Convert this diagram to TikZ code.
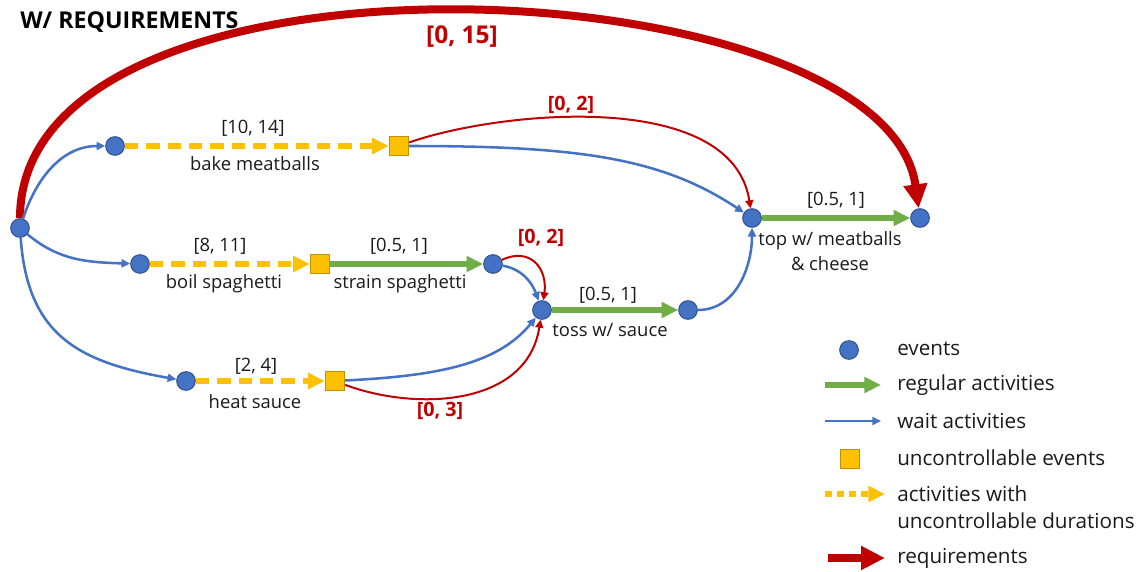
\documentclass[tikz,border=0pt]{standalone}
\usepackage{fontspec}
\setmainfont{Open Sans}
\usetikzlibrary{arrows.meta}
\definecolor{evblue}{HTML}{4472C4}
\definecolor{evedge}{HTML}{2F528F}
\definecolor{ucyel}{HTML}{FFC000}
\definecolor{ucedge}{HTML}{BF9000}
\definecolor{actgreen}{HTML}{70AD47}
\definecolor{reqred}{HTML}{C00000}
\definecolor{ink}{HTML}{1A1A1A}
\begin{document}
\begin{tikzpicture}[x=0.75pt,y=0.75pt,
  ev/.style={circle,fill=evblue,draw=evedge,line width=0.75pt,minimum size=14pt,inner sep=0pt},
  uc/.style={rectangle,fill=ucyel,draw=ucedge,line width=0.75pt,minimum size=14.5pt,inner sep=0pt},
  wait/.style={draw=evblue,line width=1.9pt,-{Triangle[length=6.5pt,width=6pt]}},
  act/.style={draw=actgreen,line width=3.8pt,-{Triangle[length=12.5pt,width=11.5pt]}},
  ucact/.style={draw=ucyel,line width=3.8pt,dash pattern=on 10pt off 6pt,-{Triangle[length=12.5pt,width=11.5pt]}},
  req/.style={draw=reqred,line width=1.5pt,-{Triangle[length=6pt,width=6pt]}},
  bigreq/.style={draw=reqred,line width=6pt,-{Triangle[length=18pt,width=17pt]}},
  lbl/.style={font=\fontsize{13.8}{18.75}\selectfont,text=ink,inner sep=0pt},
  rlbl/.style={font=\fontsize{14.8}{16}\selectfont\bfseries,text=reqred,inner sep=0pt},
  leg/.style={font=\fontsize{15.5}{20.25}\selectfont,text=ink,inner sep=0pt,anchor=west,align=left},
]
\useasboundingbox (0,0) rectangle (1138,-571);

% title
\node[font=\fontsize{17.4}{19}\selectfont\bfseries,anchor=west,inner sep=0pt] (title) at (20,-22) {W/ REQUIREMENTS};

% events
\node[ev] (s)  at (20,-228) {};
\node[ev] (b1) at (115,-146) {};
\node[uc] (b2) at (399,-146) {};
\node[ev] (p1) at (140,-264) {};
\node[uc] (p2) at (320,-264) {};
\node[ev] (p3) at (493,-264) {};
\node[ev] (h1) at (186,-381) {};
\node[uc] (h2) at (335,-381) {};
\node[ev] (t1) at (542,-310) {};
\node[ev] (t2) at (688,-310) {};
\node[ev] (m1) at (752,-218) {};
\node[ev] (m2) at (920,-218) {};

% overall requirement
\draw[bigreq] (s) .. controls +(0,303) and +(-35,253) .. (m2);
\node[font=\fontsize{18.4}{20}\selectfont\bfseries,text=reqred,inner sep=0pt] (r15) at (462,-37) {[0, 15]};

% wait activities from the start
\draw[wait] (s) to[out=72,in=180] (b1);
\draw[wait] (s) to[out=-40,in=178] (p1);
\draw[wait] (s) to[out=-86,in=170,looseness=1.2] (h1);

% activities
\draw[ucact] (b1) -- (b2);
\draw[ucact] (p1) -- (p2);
\draw[act] (p2) -- (p3);
\draw[ucact] (h1) -- (h2);
\draw[act] (t1) -- (t2);
\draw[act] (m1) -- (m2);

% waits into the joins
\draw[wait] (b2) .. controls +(180,0) and +(-90,60) .. (m1);
\draw[wait] (p3) to[out=-10,in=110] (t1);
\draw[wait] (h2) .. controls +(100,5) and +(-45,-55) .. (t1);
\draw[wait] (t2) to[out=0,in=-90] (m1);

% requirements
\draw[req] (b2) .. controls +(100,35) and +(-20,130) .. (m1);
\draw[req] (p3) to[out=25,in=82,looseness=1.4] (t1);
\draw[req] (h2) .. controls +(80,-30) and +(-15,-97) .. (t1);

% labels
\node[lbl] (lb1) at (253,-128) {[10, 14]};
\node[lbl] (lb2) at (255,-164) {bake meatballs};
\node[lbl] (lp1) at (220,-246) {[8, 11]};
\node[lbl] (lp2) at (224,-284) {boil spaghetti};
\node[lbl] (lp3) at (399,-246) {[0.5, 1]};
\node[lbl] (lp4) at (400,-284) {strain spaghetti};
\node[lbl] (lh1) at (256,-366) {[2, 4]};
\node[lbl] (lh2) at (255,-402) {heat sauce};
\node[lbl] (lt1) at (608,-295) {[0.5, 1]};
\node[lbl] (lt2) at (610,-330) {toss w/ sauce};
\node[lbl] (lm1) at (836,-200) {[0.5, 1]};
\node[lbl,align=center] (lm2) at (830,-251) {top w/ meatballs\\\& cheese};
\node[rlbl] (r02a) at (571,-105) {[0, 2]};
\node[rlbl] (r02b) at (541,-238) {[0, 2]};
\node[rlbl] (r03) at (440,-411) {[0, 3]};

% legend
\node[ev] (kev) at (849,-350) {};
\node[leg] (kevt) at (897,-349) {events};
\coordinate (ka1) at (825,-385);
\coordinate (ka2) at (881,-385);
\draw[act] (ka1) -- (ka2);
\node[leg] (kat) at (897,-385) {regular activities};
\coordinate (kw1) at (825,-421);
\coordinate (kw2) at (881,-421);
\draw[wait] (kw1) -- (kw2);
\node[leg] (kwt) at (897,-421) {wait activities};
\node[uc] (kuc) at (850,-459) {};
\node[leg] (kuct) at (897,-458) {uncontrollable events};
\coordinate (kd1) at (825,-494);
\coordinate (kd2) at (885,-494);
\draw[ucact,dash pattern=on 5pt off 4pt] (kd1) -- (kd2);
\node[leg] (kdt) at (897,-507) {activities with\\uncontrollable durations};
\coordinate (kr1) at (828,-558);
\coordinate (kr2) at (885,-558);
\draw[bigreq] (kr1) -- (kr2);
\node[leg] (krt) at (897,-558) {requirements};
\end{tikzpicture}
\end{document}
